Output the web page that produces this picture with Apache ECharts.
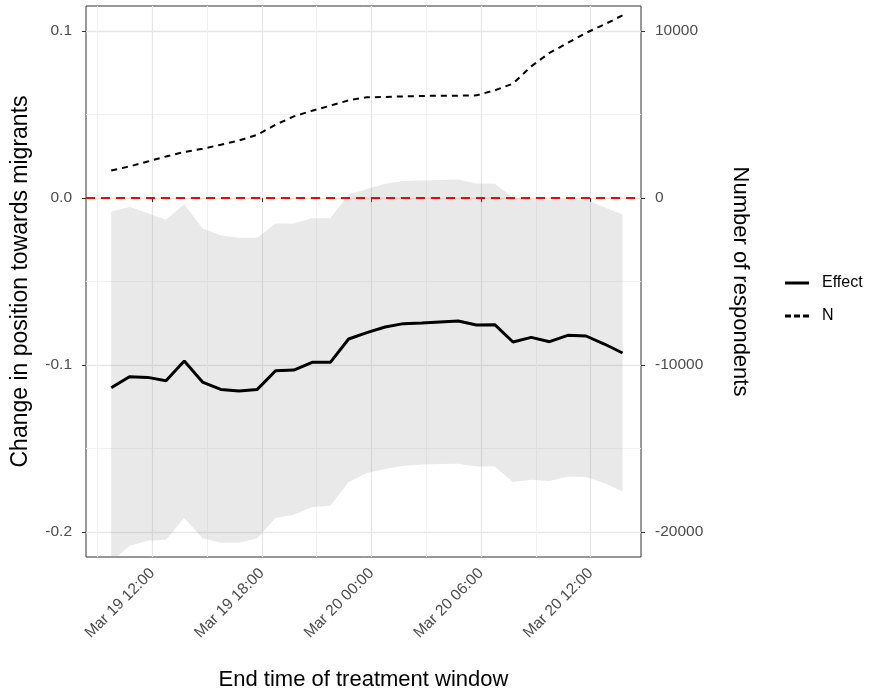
<!DOCTYPE html>
<html>
<head>
<meta charset="utf-8">
<script src="https://cdn.jsdelivr.net/npm/echarts@6/dist/echarts.min.js"></script>
<style>
  html, body { margin: 0; padding: 0; background: #fff; }
  #chart { width: 872px; height: 690px; }
</style>
</head>
<body>
<div id="chart"></div>
<script>
// end of treatment window, in hours since Mar 19 00:00
var hours = [9.75, 10.75, 11.75, 12.75, 13.75, 14.75, 15.75, 16.75, 17.75, 18.75,
  19.75, 20.75, 21.75, 22.75, 23.75, 24.75, 25.75, 26.75, 27.75, 28.75,
  29.75, 30.75, 31.75, 32.75, 33.75, 34.75, 35.75, 36.75, 37.75];

var effect = [-0.1136, -0.1070, -0.1074, -0.1094, -0.0976, -0.1102, -0.1146, -0.1156, -0.1146, -0.1034,
  -0.1030, -0.0984, -0.0984, -0.0844, -0.0806, -0.0772, -0.0752, -0.0748, -0.0742, -0.0736,
  -0.0760, -0.0758, -0.0862, -0.0834, -0.0860, -0.0822, -0.0826, -0.0874, -0.0928];

var ciUpper = [-0.0082, -0.0052, -0.0090, -0.0130, -0.0036, -0.0182, -0.0222, -0.0238, -0.0238, -0.0152,
  -0.0152, -0.0120, -0.0120, 0.0022, 0.0055, 0.0086, 0.0102, 0.0106, 0.0108, 0.0112,
  0.0088, 0.0086, 0.0002, -0.0006, -0.0010, -0.0006, -0.0010, -0.0054, -0.0098];

var ciLower = [-0.2180, -0.2082, -0.2053, -0.2047, -0.1917, -0.2037, -0.2064, -0.2064, -0.2037, -0.1917,
  -0.1897, -0.1851, -0.1843, -0.1700, -0.1647, -0.1623, -0.1603, -0.1596, -0.1593, -0.1591,
  -0.1608, -0.1608, -0.1701, -0.1687, -0.1695, -0.1668, -0.1671, -0.1707, -0.1758];

var respondents = [1656, 1896, 2196, 2496, 2760, 2958, 3198, 3456, 3798, 4398,
  4896, 5238, 5538, 5860, 6040, 6060, 6096, 6120, 6138, 6138,
  6156, 6456, 6858, 7896, 8700, 9300, 9900, 10398, 10956];

var xTicks = [12, 18, 24, 30, 36];
var xMinor = [9, 15, 21, 27, 33];
var yTicks = [-0.2, -0.1, 0, 0.1];
var yMinor = [-0.15, -0.05, 0.05];
var nTicks = [-20000, -10000, 0, 10000];

var FONT = 'Liberation Sans';
var xMin = 8.37, xMax = 38.76;
var yMin = -0.215, yMax = 0.1151;
var nScale = 100000; // right axis = left axis * 100000

function pairs(ys) {
  return hours.map(function (h, i) { return [h, ys[i]]; });
}
function pad(n) { return n < 10 ? '0' + n : '' + n; }
function timeLabel(h) {
  var day = 19 + Math.floor(h / 24);
  return 'Mar ' + day + ' ' + pad(h % 24) + ':00';
}

// confidence ribbon drawn as one polygon through the axis scales
function renderRibbon(params, api) {
  if (params.dataIndex !== 0) return;
  var upper = [], lower = [];
  for (var i = 0; i < hours.length; i++) {
    upper.push(api.coord([hours[i], ciUpper[i]]));
    lower.unshift(api.coord([hours[i], ciLower[i]]));
  }
  var cs = params.coordSys;
  return {
    type: 'polygon',
    shape: { points: upper.concat(lower) },
    style: { fill: 'rgba(153,153,153,0.21)' },
    clipPath: { type: 'rect', shape: { x: cs.x, y: cs.y, width: cs.width, height: cs.height } }
  };
}

var chart = echarts.init(document.getElementById('chart'));
chart.setOption({
  animation: false,
  textStyle: { fontFamily: FONT },
  grid: {
    left: 86, right: 231, top: 6, bottom: 133,
    show: true, borderColor: '#333', borderWidth: 1, backgroundColor: 'transparent',
    outerBoundsMode: 'none'
  },
  legend: {
    orient: 'vertical',
    left: 780, top: 270,
    itemWidth: 24, itemHeight: 3, itemGap: 17,
    data: [
      { name: 'Effect', icon: 'path://M0,0H24V3H0Z' },
      { name: 'N', icon: 'path://M0,0H6V3H0Z M9,0H15V3H9Z M18,0H24V3H18Z' }
    ],
    textStyle: { fontFamily: FONT, fontSize: 16, color: '#000', padding: [0, 0, 0, 8] }
  },
  xAxis: [{
    type: 'value', min: xMin, max: xMax,
    name: 'End time of treatment window', nameLocation: 'middle', nameGap: 112,
    nameTextStyle: { fontFamily: FONT, fontSize: 22, color: '#000' },
    axisLine: { show: false },
    axisTick: { show: true, customValues: xTicks, length: 4, lineStyle: { color: '#333', width: 1 } },
    axisLabel: {
      customValues: xTicks, rotate: 45, margin: 14, fontSize: 15.5, color: '#4d4d4d',
      formatter: function (v) { return timeLabel(v); }
    },
    splitLine: { show: true, lineStyle: { color: '#e6e6e6', width: 1.3 } }
  }, {
    type: 'value', min: xMin, max: xMax, position: 'top',
    axisLine: { show: false },
    axisTick: { show: false, customValues: xMinor },
    axisLabel: { show: false },
    splitLine: { show: true, lineStyle: { color: '#efefef', width: 0.9 } }
  }],
  yAxis: [{
    type: 'value', min: yMin, max: yMax, position: 'left',
    name: 'Change in position towards migrants', nameLocation: 'middle', nameGap: 54, nameRotate: 90,
    nameTextStyle: { fontFamily: FONT, fontSize: 23, color: '#000' },
    axisLine: { show: false },
    axisTick: { show: true, customValues: yTicks, length: 4, lineStyle: { color: '#333', width: 1 } },
    axisLabel: {
      customValues: yTicks, margin: 14, fontSize: 15.5, color: '#4d4d4d',
      formatter: function (v) { return v.toFixed(1); }
    },
    splitLine: { show: true, lineStyle: { color: '#e6e6e6', width: 1.3 } }
  }, {
    type: 'value', min: yMin * nScale, max: yMax * nScale, position: 'right',
    name: 'Number of respondents', nameLocation: 'middle', nameGap: 88, nameRotate: -90,
    nameTextStyle: { fontFamily: FONT, fontSize: 22, color: '#000' },
    axisLine: { show: false },
    axisTick: { show: true, customValues: nTicks, length: 4, lineStyle: { color: '#333', width: 1 } },
    axisLabel: {
      customValues: nTicks, margin: 14, fontSize: 15.5, color: '#4d4d4d',
      formatter: function (v) { return String(Math.round(v)); }
    },
    splitLine: { show: false }
  }, {
    type: 'value', min: yMin, max: yMax, position: 'left',
    axisLine: { show: false },
    axisTick: { show: false, customValues: yMinor },
    axisLabel: { show: false },
    splitLine: { show: true, lineStyle: { color: '#efefef', width: 0.9 } }
  }],
  series: [{
    name: 'ci', type: 'custom', silent: true, z: 1,
    data: hours.map(function (h, i) { return [h, ciLower[i], ciUpper[i]]; }),
    encode: { x: 0, y: [1, 2] },
    renderItem: renderRibbon
  }, {
    name: 'Effect', type: 'line', data: pairs(effect),
    symbol: 'none', showSymbol: false, z: 4,
    lineStyle: { color: '#000', width: 3 },
    itemStyle: { color: '#000' },
    markLine: {
      silent: true, symbol: ['none', 'none'], label: { show: false },
      lineStyle: { color: '#ff0000', type: [9, 6], width: 1.8 },
      data: [{ yAxis: 0 }]
    }
  }, {
    name: 'N', type: 'line', data: pairs(respondents), yAxisIndex: 1,
    symbol: 'none', showSymbol: false, z: 4,
    lineStyle: { color: '#000', width: 2, type: [6, 5] },
    itemStyle: { color: '#000' }
  }]
});
</script>
</body>
</html>
